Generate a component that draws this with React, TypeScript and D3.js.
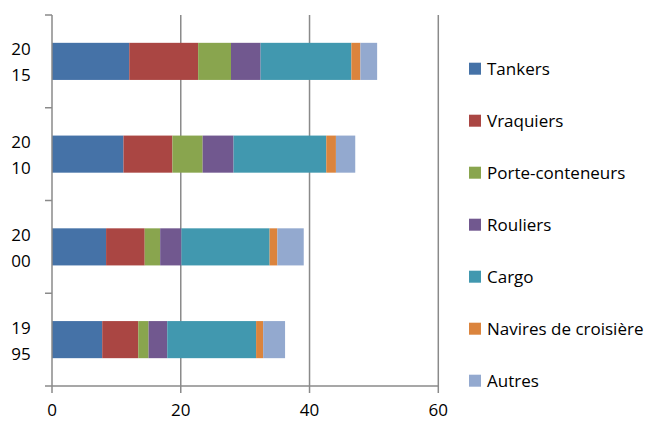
import * as React from 'react'
import * as d3 from 'd3'

const years = ['2015', '2010', '2000', '1995']
const seriesNames = ['Tankers', 'Vraquiers', 'Porte-conteneurs', 'Rouliers', 'Cargo', 'Navires de croisière', 'Autres']
const colors = ['#4572A7', '#AA4643', '#89A54E', '#71588F', '#4198AF', '#DB843D', '#93A9CF']
// values per series, in the order of years above
const tankers = [12.0, 11.1, 8.4, 7.8]
const vraquiers = [10.7, 7.6, 6.0, 5.6]
const porteConteneurs = [5.1, 4.7, 2.4, 1.6]
const rouliers = [4.6, 4.8, 3.3, 2.9]
const cargo = [14.1, 14.4, 13.7, 13.8]
const croisiere = [1.4, 1.5, 1.2, 1.1]
const autres = [2.6, 3.0, 4.1, 3.4]
const xTicks = [0, 20, 40, 60]

const W = 657
const H = 421
const font = '"Open Sans", sans-serif'
const fs = 17

export default function App() {
    const margin = { left: 52, right: 219, top: 15, bottom: 35 }
    const x = d3.scaleLinear().domain([0, 60]).range([margin.left, W - margin.right + 0.3])
    const y = d3.scaleBand().domain(years).range([margin.top, H - margin.bottom]).paddingInner(0.6).paddingOuter(0.3)
    const band = d3.scaleBand().domain(years).range([margin.top, H - margin.bottom])

    const all = [tankers, vraquiers, porteConteneurs, rouliers, cargo, croisiere, autres]
    const rows = years.map((yr, i) => {
        const r: any = { year: yr }
        seriesNames.forEach((s, j) => { r[s] = all[j][i] })
        return r
    })
    const stacked = d3.stack().keys(seriesNames)(rows)
    const bottom = H - margin.bottom
    const grid = '#8a8a8a'

    return <div style={{ position: 'absolute', left: 0, top: 0 }}>
        <svg width={W} height={H} style={{ display: 'block' }}>
            <rect width={W} height={H} fill='#fff' />
            {xTicks.slice(1).map(t => (
                <line key={t} x1={x(t)} x2={x(t)} y1={margin.top} y2={bottom} stroke={grid} strokeWidth={1.5} />
            ))}
            {stacked.map((s, j) => (
                <g key={s.key} fill={colors[j]}>
                    {s.map((d, i) => (
                        <rect key={i} x={x(d[0])} y={y(years[i])} width={x(d[1]) - x(d[0])} height={y.bandwidth()} />
                    ))}
                </g>
            ))}
            {/* axes */}
            <line x1={margin.left} x2={margin.left} y1={margin.top} y2={bottom} stroke={grid} strokeWidth={1.5} />
            <line x1={margin.left - 7} x2={x(60)} y1={bottom} y2={bottom} stroke={grid} strokeWidth={1.5} />
            {years.map(yr => (
                <line key={yr} x1={margin.left - 7} x2={margin.left} y1={band(yr)} y2={band(yr)} stroke={grid} strokeWidth={1.5} />
            ))}
            {xTicks.map(t => (
                <g key={t}>
                    <line x1={x(t)} x2={x(t)} y1={bottom} y2={bottom + 7} stroke={grid} strokeWidth={1.5} />
                    <text x={x(t)} y={bottom + 30} textAnchor='middle' fontFamily={font} fontSize={fs} fill='#000'>{t}</text>
                </g>
            ))}
            {years.map(yr => {
                const c = (band(yr) as number) + band.bandwidth() / 2
                return <text key={yr} fontFamily={font} fontSize={fs} fill='#000' textAnchor='middle'>
                    <tspan x={21} y={c - 6}>{yr.slice(0, 2)}</tspan>
                    <tspan x={21} y={c + 20}>{yr.slice(2)}</tspan>
                </text>
            })}
            {/* legend */}
            {seriesNames.map((s, j) => {
                const cy = 68.7 + j * 52
                return <g key={s}>
                    <rect x={469} y={cy - 6} width={12} height={12} fill={colors[j]} />
                    <text x={487} y={cy + 6} fontFamily={font} fontSize={fs} fill='#000'>{s}</text>
                </g>
            })}
        </svg>
    </div>
}
